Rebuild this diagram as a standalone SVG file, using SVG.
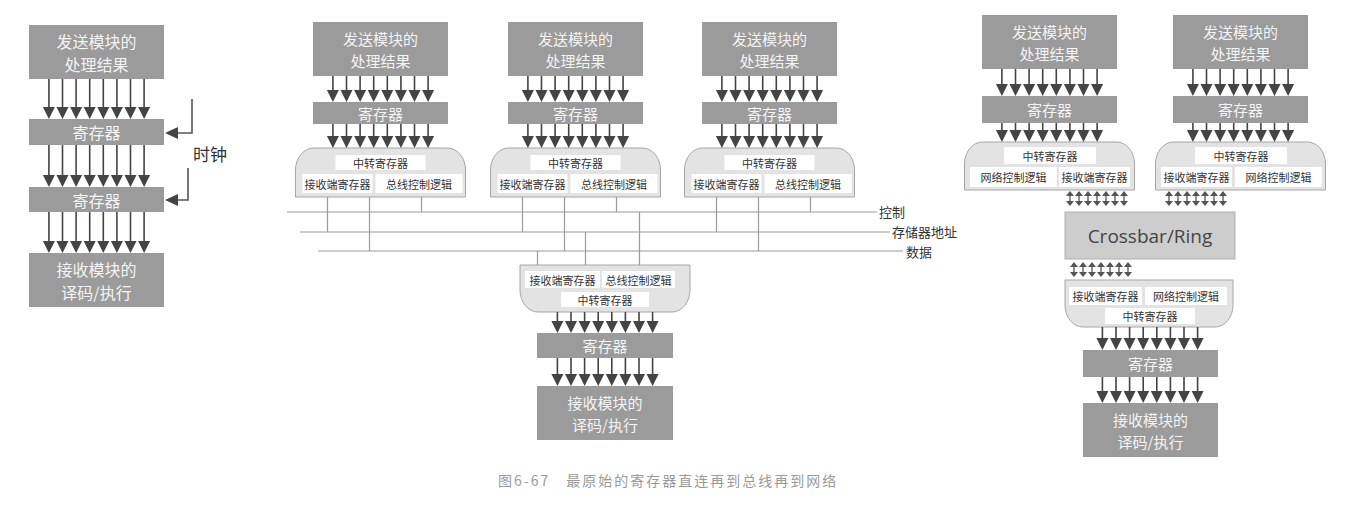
<svg xmlns="http://www.w3.org/2000/svg" width="1348" height="517" viewBox="0 0 1348 517">
<style>
text{font-family:"Noto Sans CJK SC","Noto Sans",sans-serif}
.bx{fill:#9b9b9b}
.bt{fill:#f4f4f4;font-size:15px;text-anchor:middle;dominant-baseline:central}
.bt17{fill:#f4f4f4;font-size:16px;text-anchor:middle;dominant-baseline:central}
.if{fill:#e3e3e3;stroke:#a6a6a6;stroke-width:1}
.wb{fill:#ffffff}
.st{fill:#333;font-size:11px;text-anchor:middle;dominant-baseline:central}
.bus{stroke:#9a9a9a;stroke-width:1.2;fill:none}
.lbl{fill:#333;font-size:13px;dominant-baseline:central}
.shaft{stroke:#444;stroke-width:1.6;fill:none}
.head{fill:#444}
.clk{stroke:#555;stroke-width:1.6;fill:none}
.bd{stroke:#555;stroke-width:1.3;fill:none}
</style>
<defs>
<path id="sh" class="shaft" d="M-47.6 0V1M-34 0V1M-20.4 0V1M-6.8 0V1M6.8 0V1M20.4 0V1M34 0V1M47.6 0V1"/>
<path id="hd" class="head" d="M-53.6 -12H-41.6L-47.6 0ZM-40 -12H-28L-34 0ZM-26.4 -12H-14.4L-20.4 0ZM-12.8 -12H-0.8L-6.8 0ZM0.8 -12H12.8L6.8 0ZM14.4 -12H26.4L20.4 0ZM28 -12H40L34 0ZM41.6 -12H53.6L47.6 0Z"/>
<g id="bdir">
<path class="bd" d="M-27 1V14M-18 1V14M-9 1V14M0 1V14M9 1V14M18 1V14M27 1V14"/>
<path fill="#555" d="M-31 5L-27 0L-23 5ZM-22 5L-18 0L-14 5ZM-13 5L-9 0L-5 5ZM-4 5L0 0L4 5ZM5 5L9 0L13 5ZM14 5L18 0L22 5ZM23 5L27 0L31 5Z M-31 10L-27 15L-23 10ZM-22 10L-18 15L-14 10ZM-13 10L-9 15L-5 10ZM-4 10L0 15L4 10ZM5 10L9 15L13 10ZM14 10L18 15L22 10ZM23 10L27 15L31 10Z"/>
</g>
</defs>
<rect width="1348" height="517" fill="#ffffff"/>

<!-- Left panel -->
<g id="left-send"><rect class="bx" x="29" y="25" width="135" height="54"/><text class="bt17" x="96.5" y="40.5">发送模块的</text><text class="bt17" x="96.5" y="64">处理结果</text></g>
<g id="left-reg1"><rect class="bx" x="29" y="119" width="135" height="26"/><text class="bt17" x="96.5" y="132">寄存器</text></g>
<g id="left-reg2"><rect class="bx" x="29" y="187" width="135" height="25"/><text class="bt17" x="96.5" y="199.5">寄存器</text></g>
<g id="left-recv"><rect class="bx" x="29" y="253" width="135" height="54"/><text class="bt17" x="96.5" y="268.5">接收模块的</text><text class="bt17" x="96.5" y="292">译码/执行</text></g>
<g id="clock"><text x="193" y="153" style="fill:#333;font-size:17px;dominant-baseline:central">时钟</text></g>

<!-- Middle panel: bus senders -->
<g id="bus-n1">
<rect class="bx" x="313" y="22" width="135" height="54"/><text class="bt" x="380.5" y="38">发送模块的</text><text class="bt" x="380.5" y="60">处理结果</text>
<rect class="bx" x="313" y="102" width="135" height="22"/><text class="bt" x="380.5" y="113">寄存器</text>
<path class="if" d="M295.5 197V170A18 22 0 0 1 313.5 148H447.5A18 22 0 0 1 465.5 170V197Z"/>
<rect class="wb" x="335.5" y="155" width="90" height="15"/><text class="st" x="380.5" y="162.5">中转寄存器</text>
<rect class="wb" x="302.5" y="174" width="70" height="19"/><text class="st" x="337.5" y="183.5">接收端寄存器</text>
<rect class="wb" x="375.5" y="174" width="87" height="19"/><text class="st" x="419" y="183.5">总线控制逻辑</text>
</g>
<g id="bus-n2">
<rect class="bx" x="508" y="22" width="135" height="54"/><text class="bt" x="575.5" y="38">发送模块的</text><text class="bt" x="575.5" y="60">处理结果</text>
<rect class="bx" x="508" y="102" width="135" height="22"/><text class="bt" x="575.5" y="113">寄存器</text>
<path class="if" d="M490.5 197V170A18 22 0 0 1 508.5 148H642.5A18 22 0 0 1 660.5 170V197Z"/>
<rect class="wb" x="530.5" y="155" width="90" height="15"/><text class="st" x="575.5" y="162.5">中转寄存器</text>
<rect class="wb" x="497.5" y="174" width="70" height="19"/><text class="st" x="532.5" y="183.5">接收端寄存器</text>
<rect class="wb" x="570.5" y="174" width="87" height="19"/><text class="st" x="614" y="183.5">总线控制逻辑</text>
</g>
<g id="bus-n3">
<rect class="bx" x="702" y="22" width="135" height="54"/><text class="bt" x="769.5" y="38">发送模块的</text><text class="bt" x="769.5" y="60">处理结果</text>
<rect class="bx" x="702" y="102" width="135" height="22"/><text class="bt" x="769.5" y="113">寄存器</text>
<path class="if" d="M684.5 197V170A18 22 0 0 1 702.5 148H836.5A18 22 0 0 1 854.5 170V197Z"/>
<rect class="wb" x="724.5" y="155" width="90" height="15"/><text class="st" x="769.5" y="162.5">中转寄存器</text>
<rect class="wb" x="691.5" y="174" width="70" height="19"/><text class="st" x="726.5" y="183.5">接收端寄存器</text>
<rect class="wb" x="764.5" y="174" width="87" height="19"/><text class="st" x="808" y="183.5">总线控制逻辑</text>
</g>
<g id="bus-labels">
<text class="lbl" x="879" y="211">控制</text>
<text class="lbl" x="892" y="231">存储器地址</text>
<text class="lbl" x="906" y="251">数据</text>
</g>
<g id="bus-recv">
<path class="if" d="M520 265H690V290A18 22 0 0 1 672 312H538A18 22 0 0 1 520 290Z"/>
<rect class="wb" x="525" y="271" width="75" height="17"/><text class="st" x="562.5" y="279.5">接收端寄存器</text>
<rect class="wb" x="602" y="271" width="73" height="17"/><text class="st" x="638.5" y="279.5">总线控制逻辑</text>
<rect class="wb" x="561" y="292" width="88" height="15"/><text class="st" x="605" y="299.5">中转寄存器</text>
<rect class="bx" x="537" y="333" width="136" height="25"/><text class="bt" x="605" y="345.5">寄存器</text>
<rect class="bx" x="537" y="386" width="136" height="54"/><text class="bt" x="605" y="402">接收模块的</text><text class="bt" x="605" y="424">译码/执行</text>
</g>

<!-- Right panel: network -->
<g id="net-n1">
<rect class="bx" x="982" y="15" width="135" height="54"/><text class="bt" x="1049.5" y="31">发送模块的</text><text class="bt" x="1049.5" y="53">处理结果</text>
<rect class="bx" x="982" y="96" width="135" height="27"/><text class="bt" x="1049.5" y="109.5">寄存器</text>
<path class="if" d="M964.5 190V164A18 22 0 0 1 982.5 142H1116.5A18 22 0 0 1 1134.5 164V190Z"/>
<rect class="wb" x="1004" y="147" width="92" height="17"/><text class="st" x="1050" y="155.5">中转寄存器</text>
<rect class="wb" x="970" y="167" width="87" height="20"/><text class="st" x="1013.5" y="177">网络控制逻辑</text>
<rect class="wb" x="1059" y="167" width="71" height="20"/><text class="st" x="1094.5" y="177">接收端寄存器</text>
</g>
<g id="net-n2">
<rect class="bx" x="1173" y="15" width="135" height="54"/><text class="bt" x="1240.5" y="31">发送模块的</text><text class="bt" x="1240.5" y="53">处理结果</text>
<rect class="bx" x="1173" y="96" width="135" height="27"/><text class="bt" x="1240.5" y="109.5">寄存器</text>
<path class="if" d="M1155.5 190V164A18 22 0 0 1 1173.5 142H1307.5A18 22 0 0 1 1325.5 164V190Z"/>
<rect class="wb" x="1195" y="147" width="92" height="17"/><text class="st" x="1241" y="155.5">中转寄存器</text>
<rect class="wb" x="1161" y="167" width="71" height="20"/><text class="st" x="1196.5" y="177">接收端寄存器</text>
<rect class="wb" x="1235" y="167" width="87" height="20"/><text class="st" x="1278.5" y="177">网络控制逻辑</text>
</g>
<g id="crossbar">
<rect x="1065" y="212" width="170" height="47" fill="#cdcdcd" stroke="#b0b0b0"/>
<text x="1150" y="236" style="font-family:'Open Sans','Noto Sans',sans-serif;font-size:19px;fill:#454545;text-anchor:middle;dominant-baseline:central">Crossbar/Ring</text>
</g>
<g id="net-recv">
<path class="if" d="M1065 280H1233V305A18 22 0 0 1 1215 327H1083A18 22 0 0 1 1065 305Z"/>
<rect class="wb" x="1069" y="287" width="73" height="18"/><text class="st" x="1105.5" y="296">接收端寄存器</text>
<rect class="wb" x="1145" y="287" width="82" height="18"/><text class="st" x="1186" y="296">网络控制逻辑</text>
<rect class="wb" x="1105" y="308" width="90" height="16"/><text class="st" x="1150" y="316">中转寄存器</text>
<rect class="bx" x="1083" y="350" width="135" height="27"/><text class="bt" x="1150.5" y="363.5">寄存器</text>
<rect class="bx" x="1083" y="403" width="135" height="54"/><text class="bt" x="1150.5" y="419">接收模块的</text><text class="bt" x="1150.5" y="441">译码/执行</text>
</g>

<g id="caption"><text x="498" y="480" style="fill:#9a9a9a;font-size:14px;letter-spacing:2px;dominant-baseline:central">图6-67　最原始的寄存器直连再到总线再到网络</text></g>

<g id="connectors">
<!-- left -->
<use href="#sh" transform="translate(96.5,79) scale(1,28)"/><use href="#hd" x="96.5" y="119"/>
<use href="#sh" transform="translate(96.5,145) scale(1,30)"/><use href="#hd" x="96.5" y="187"/>
<use href="#sh" transform="translate(96.5,212) scale(1,29)"/><use href="#hd" x="96.5" y="253"/>
<path class="clk" d="M192 99V133H177"/><path class="head" d="M165 133L178 127V139Z"/>
<path class="clk" d="M188 168V200H177"/><path class="head" d="M165 200L178 194V206Z"/>
<!-- middle top arrows -->
<use href="#sh" transform="translate(380.5,76) scale(1,14)"/><use href="#hd" x="380.5" y="102"/>
<use href="#sh" transform="translate(380.5,124) scale(1,12)"/><use href="#hd" x="380.5" y="148"/>
<use href="#sh" transform="translate(575.5,76) scale(1,14)"/><use href="#hd" x="575.5" y="102"/>
<use href="#sh" transform="translate(575.5,124) scale(1,12)"/><use href="#hd" x="575.5" y="148"/>
<use href="#sh" transform="translate(769.5,76) scale(1,14)"/><use href="#hd" x="769.5" y="102"/>
<use href="#sh" transform="translate(769.5,124) scale(1,12)"/><use href="#hd" x="769.5" y="148"/>
<!-- bus lines -->
<path class="bus" d="M287 212H877M300 232H890M318 251H903"/>
<path class="bus" d="M327.5 197V232M369.5 197V251M421.5 197V212M522.5 197V232M564.5 197V251M616.5 197V212M716.5 197V232M758.5 197V251M810.5 197V212"/>
<path class="bus" d="M537.5 251V265M585.5 232V265M639.5 212V265"/>
<!-- middle bottom arrows -->
<use href="#sh" transform="translate(605,312) scale(1,9)"/><use href="#hd" x="605" y="333"/>
<use href="#sh" transform="translate(605,358) scale(1,16)"/><use href="#hd" x="605" y="386"/>
<!-- right arrows -->
<use href="#sh" transform="translate(1049.5,69) scale(1,15)"/><use href="#hd" x="1049.5" y="96"/>
<use href="#sh" transform="translate(1049.5,123) scale(1,7)"/><use href="#hd" x="1049.5" y="142"/>
<use href="#sh" transform="translate(1240.5,69) scale(1,15)"/><use href="#hd" x="1240.5" y="96"/>
<use href="#sh" transform="translate(1240.5,123) scale(1,7)"/><use href="#hd" x="1240.5" y="142"/>
<use href="#bdir" x="1097" y="191"/>
<use href="#bdir" x="1196" y="191"/>
<use href="#bdir" x="1101" y="262"/>
<use href="#sh" transform="translate(1150,327) scale(1,11)"/><use href="#hd" x="1150" y="350"/>
<use href="#sh" transform="translate(1150,377) scale(1,14)"/><use href="#hd" x="1150" y="403"/>
</g>
</svg>
